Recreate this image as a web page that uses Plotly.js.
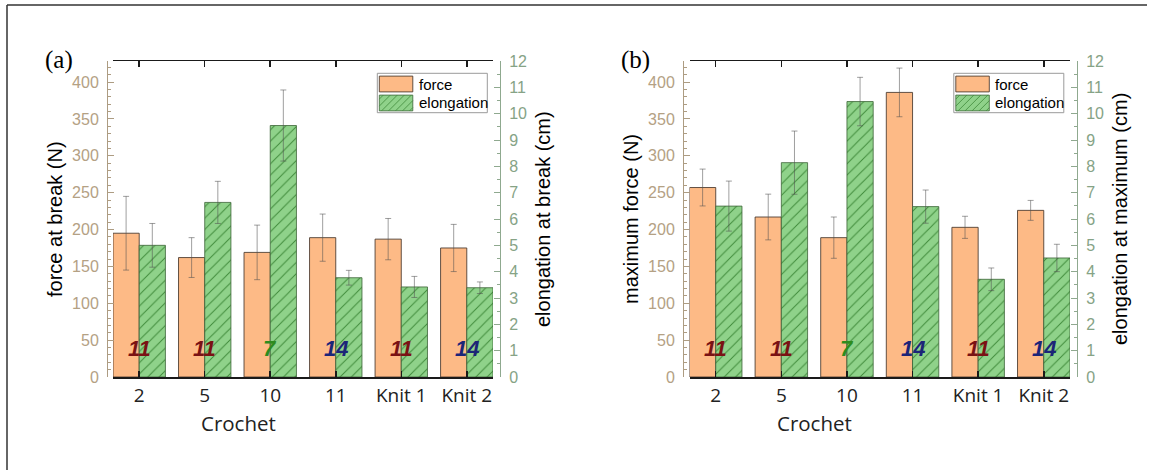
<!DOCTYPE html>
<html>
<head>
<meta charset="utf-8">
<script src="https://cdn.plot.ly/plotly-3.0.1.min.js"></script>
<style>
  html, body { margin: 0; padding: 0; background: #fff; }
  #chart { width: 1154px; height: 470px; }
</style>
</head>
<body>
<div id="chart"></div>
<script>
// Sample groups (crochet stitch sizes and two knits)
const categories = ['2', '5', '10', '11', 'Knit 1', 'Knit 2'];

// (a) values at break
const forceAtBreak = [195, 162, 169, 189, 187, 175];
const forceAtBreakErr = [50, 27, 37, 32, 28, 32];
const elongationAtBreak = [5.0, 6.63, 9.55, 3.77, 3.42, 3.39];
const elongationAtBreakErr = [0.83, 0.8, 1.35, 0.28, 0.4, 0.22];

// (b) values at maximum force
const maximumForce = [257, 217, 189, 386, 203, 226];
const maximumForceErr = [25, 31, 28, 33, 15, 13.5];
const elongationAtMaximum = [6.49, 8.14, 10.46, 6.47, 3.71, 4.52];
const elongationAtMaximumErr = [0.95, 1.2, 0.92, 0.63, 0.43, 0.52];

// number of specimens tested per group
const specimenCounts = [11, 11, 7, 14, 11, 14];

// ---- styling ----
const W = 1154, H = 470;
const px = x => x / W;
const py = y => 1 - y / H;

const ORANGE = '#fdba86';
const GREEN_BG = '#8fd28a';
const GREEN_FG = '#3f8a3a';
const LEFT_AX = '#ad9c82';
const LEFT_LBL = '#b4a184';
const RIGHT_AX = '#8fa98f';
const RIGHT_LBL = '#86a386';
const countColor = {11: '#7a1214', 7: '#2e8c1e', 14: '#1c2578'};

const errStyle = {type: 'data', color: 'rgba(80,80,80,0.55)', thickness: 1, width: 3};

// panel geometry in pixels: plot frame and offset axis lines
const panels = [
  {frame: [113, 493], leftAx: 107, rightAx: 500, xa: 'x', ya: 'y', ya2: 'y2',
   force: forceAtBreak, forceErr: forceAtBreakErr, elong: elongationAtBreak, elongErr: elongationAtBreakErr,
   leftTitle: 'force at break (N)', rightTitle: 'elongation at break (cm)', tag: '(a)'},
  {frame: [689.5, 1070], leftAx: 683, rightAx: 1077, xa: 'x2', ya: 'y3', ya2: 'y4',
   force: maximumForce, forceErr: maximumForceErr, elong: elongationAtMaximum, elongErr: elongationAtMaximumErr,
   leftTitle: 'maximum force (N)', rightTitle: 'elongation at maximum (cm)', tag: '(b)'}
];

const Y_TOP = 61, Y_BOT = 377;
const traces = [];
const annotations = [];
const shapes = [];
const layout = {
  width: W, height: H,
  margin: {l: 0, r: 0, t: 0, b: 0},
  paper_bgcolor: '#ffffff',
  plot_bgcolor: 'rgba(0,0,0,0)',
  showlegend: false,
  barmode: 'overlay',
  font: {family: 'Liberation Sans, Arial, sans-serif', color: '#000'}
};

panels.forEach((p, i) => {
  const xKey = p.xa === 'x' ? 'xaxis' : 'xaxis2';
  const yKey = p.ya === 'y' ? 'yaxis' : 'yaxis3';
  const y2Key = p.ya2 === 'y2' ? 'yaxis2' : 'yaxis4';

  layout[xKey] = {
    domain: [px(p.frame[0]), px(p.frame[1])],
    anchor: p.ya,
    type: 'category',
    range: [-0.4, 5.4],
    showline: true, linecolor: '#1a1a1a', linewidth: 1.5,
    mirror: 'ticks',
    ticks: 'inside', ticklen: 6, tickcolor: '#1a1a1a', tickwidth: 1.5,
    showgrid: false, zeroline: false,
    tickfont: {family: 'Open Sans, sans-serif', size: 19, color: '#222'},
    ticklabelstandoff: 1,
    fixedrange: true
  };
  layout[yKey] = {
    domain: [py(Y_BOT), py(Y_TOP)],
    anchor: 'free', position: px(p.leftAx),
    range: [0, 428.6],
    dtick: 50, tick0: 0,
    showline: true, linecolor: LEFT_AX, linewidth: 1,
    ticks: 'inside', ticklen: 6, tickcolor: LEFT_AX,
    minor: {dtick: 10, ticks: 'inside', ticklen: 3, tickcolor: LEFT_AX},
    showgrid: false, zeroline: false,
    tickfont: {family: 'Liberation Sans, Arial, sans-serif', size: 16, color: LEFT_LBL},
    ticklabelstandoff: 5,
    fixedrange: true
  };
  layout[y2Key] = {
    domain: [py(Y_BOT), py(Y_TOP)],
    overlaying: p.ya, side: 'right',
    anchor: 'free', position: px(p.rightAx),
    range: [0, 12],
    dtick: 1, tick0: 0,
    showline: true, linecolor: RIGHT_AX, linewidth: 1,
    ticks: 'inside', ticklen: 6, tickcolor: RIGHT_AX,
    minor: {dtick: 0.5, ticks: 'inside', ticklen: 3, tickcolor: RIGHT_AX},
    showgrid: false, zeroline: false,
    tickfont: {family: 'Liberation Sans, Arial, sans-serif', size: 16, color: RIGHT_LBL},
    ticklabelstandoff: 5,
    fixedrange: true
  };

  // force bars (left half of each group)
  traces.push({
    type: 'bar', name: 'force', x: categories, y: p.force,
    xaxis: p.xa, yaxis: p.ya,
    width: 0.4, offset: -0.4,
    marker: {color: ORANGE, line: {color: 'rgba(70,55,45,0.85)', width: 1}},
    error_y: Object.assign({array: p.forceErr}, errStyle),
    hoverinfo: 'x+y'
  });
  // elongation bars (right half, hatched)
  traces.push({
    type: 'bar', name: 'elongation', x: categories, y: p.elong,
    xaxis: p.xa, yaxis: p.ya2,
    width: 0.4, offset: 0,
    marker: {
      color: GREEN_BG,
      line: {color: 'rgba(60,100,55,0.8)', width: 1},
      pattern: {shape: '/', bgcolor: GREEN_BG, fgcolor: GREEN_FG, size: 8, solidity: 0.12}
    },
    error_y: Object.assign({array: p.elongErr}, errStyle),
    hoverinfo: 'x+y'
  });

  // specimen counts drawn across each group (x given as category index)
  specimenCounts.forEach((n, k) => {
    annotations.push({
      xref: p.xa, yref: p.ya, x: k, y: 39,
      text: '<i>' + n + '</i>',
      showarrow: false, xanchor: 'center', yanchor: 'middle',
      font: {family: 'Liberation Sans, Arial, sans-serif', size: 22, weight: 'bold', color: countColor[n]}
    });
  });

  // axis titles
  const cy = py((Y_TOP + Y_BOT) / 2);
  annotations.push({
    xref: 'paper', yref: 'paper', x: px(p.leftAx - 52), y: cy,
    text: p.leftTitle, textangle: -90, showarrow: false,
    xanchor: 'center', yanchor: 'middle',
    font: {family: 'Liberation Sans, Arial, sans-serif', size: 20, color: '#000'}
  });
  annotations.push({
    xref: 'paper', yref: 'paper', x: px(p.rightAx + 43), y: cy,
    text: p.rightTitle, textangle: -90, showarrow: false,
    xanchor: 'center', yanchor: 'middle',
    font: {family: 'Liberation Sans, Arial, sans-serif', size: 20, color: '#000'}
  });
  annotations.push({
    xref: 'paper', yref: 'paper', x: px(p.frame[0] + 125), y: py(423),
    text: 'Crochet', showarrow: false, xanchor: 'center', yanchor: 'middle',
    font: {family: 'Open Sans, sans-serif', size: 20.5, color: '#222'}
  });
  annotations.push({
    xref: 'paper', yref: 'paper', x: px(p.leftAx - 48), y: py(60),
    text: p.tag, showarrow: false, xanchor: 'center', yanchor: 'middle',
    font: {family: 'Liberation Serif, Times New Roman, serif', size: 25, color: '#000'}
  });

  // legend box
  const lx = p.frame[0] + 264.3, ly = 73.3;
  shapes.push({type: 'rect', xref: 'paper', yref: 'paper',
    x0: px(lx), x1: px(lx + 110), y0: py(ly), y1: py(ly + 39.4),
    line: {color: '#9a9a9a', width: 1}, fillcolor: 'rgba(255,255,255,0.9)'});
  const sw = [lx + 2, lx + 35.5];
  shapes.push({type: 'rect', xref: 'paper', yref: 'paper',
    x0: px(sw[0]), x1: px(sw[1]), y0: py(ly + 2.8), y1: py(ly + 18.6),
    line: {color: 'rgba(70,55,45,0.85)', width: 1}, fillcolor: ORANGE});
  const gy0 = ly + 21.8, gy1 = ly + 37.6;
  shapes.push({type: 'rect', xref: 'paper', yref: 'paper',
    x0: px(sw[0]), x1: px(sw[1]), y0: py(gy0), y1: py(gy1),
    line: {color: 'rgba(60,100,55,0.8)', width: 1}, fillcolor: GREEN_BG});
  // diagonal hatch inside the green swatch
  let d = '';
  for (let c = sw[0] + gy0 + 4; c < sw[1] + gy1; c += 7) {
    const xa = Math.max(sw[0], c - gy1), xb = Math.min(sw[1], c - gy0);
    if (xb <= xa) continue;
    d += `M${px(xa)},${py(c - xa)}L${px(xb)},${py(c - xb)}`;
  }
  shapes.push({type: 'path', xref: 'paper', yref: 'paper', path: d,
    line: {color: GREEN_FG, width: 0.8}});
  annotations.push({xref: 'paper', yref: 'paper', x: px(lx + 39.5), y: py(ly + 11),
    text: 'force', showarrow: false, xanchor: 'left', yanchor: 'middle',
    font: {family: 'Liberation Sans, Arial, sans-serif', size: 15, color: '#000'}});
  annotations.push({xref: 'paper', yref: 'paper', x: px(lx + 39.5), y: py(ly + 29.5),
    text: 'elongation', showarrow: false, xanchor: 'left', yanchor: 'middle',
    font: {family: 'Liberation Sans, Arial, sans-serif', size: 15, color: '#000'}});
});

// outer figure border
shapes.push({type: 'line', xref: 'paper', yref: 'paper', x0: px(7), x1: px(1147), y0: py(5), y1: py(5),
  line: {color: '#333', width: 1.5}});
shapes.push({type: 'line', xref: 'paper', yref: 'paper', x0: px(7), x1: px(7), y0: py(5), y1: py(470),
  line: {color: '#333', width: 1.5}});

layout.annotations = annotations;
layout.shapes = shapes;

Plotly.newPlot('chart', traces, layout, {displayModeBar: false, staticPlot: true});
</script>
</body>
</html>
